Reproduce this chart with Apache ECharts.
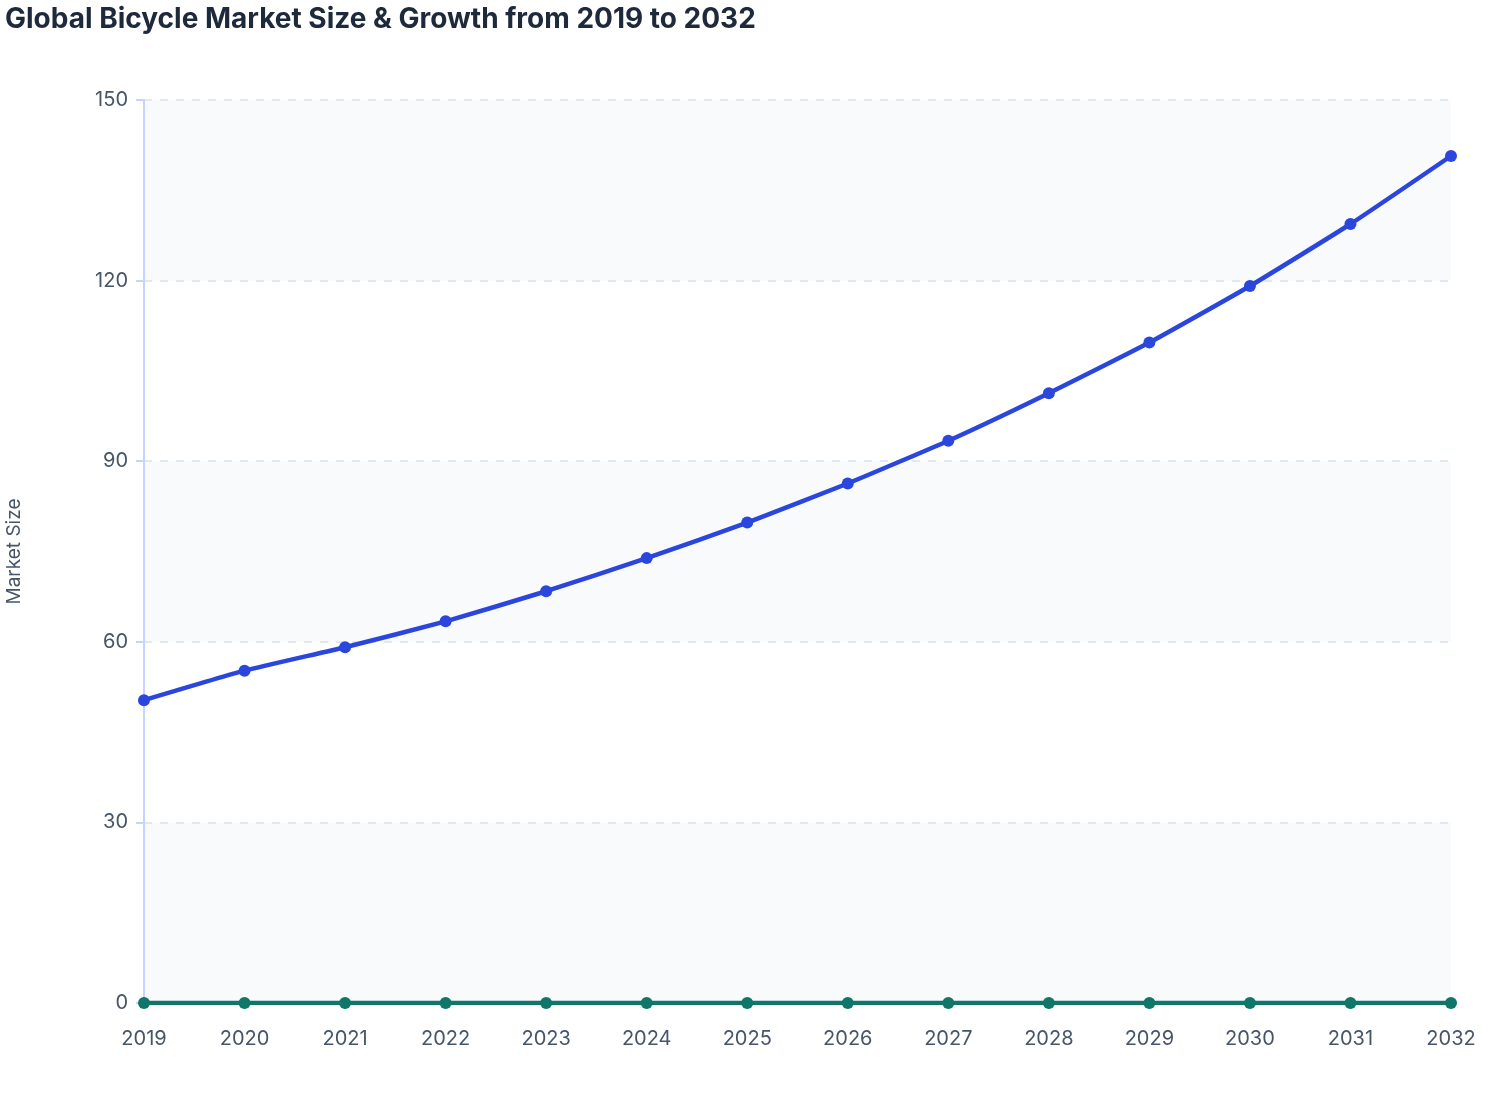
<!DOCTYPE html>
<html>
<head>
<meta charset="utf-8">
<script src="https://cdn.jsdelivr.net/npm/echarts@6/dist/echarts.min.js"></script>
<style>
html,body{margin:0;padding:0;background:#fff;}
#chart{width:1508px;height:1120px;}
</style>
</head>
<body>
<div id="chart"></div>
<script>
const years = ['2019','2020','2021','2022','2023','2024','2025','2026','2027','2028','2029','2030','2031','2032'];
const marketSize = [50.3, 55.2, 59.1, 63.4, 68.4, 73.9, 79.8, 86.3, 93.4, 101.3, 109.7, 119.1, 129.4, 140.7];
const growth = [0, 0, 0, 0, 0, 0, 0, 0, 0, 0, 0, 0, 0, 0];
const yTicks = [0, 30, 60, 90, 120, 150];

const chart = echarts.init(document.getElementById('chart'));
chart.setOption({
  animation: false,
  backgroundColor: '#ffffff',
  title: {
    text: 'Global Bicycle Market Size & Growth from 2019 to 2032',
    left: 0, top: 1,
    textStyle: {fontFamily: 'Inter', fontSize: 28, fontWeight: 'bold', color: '#1e293b'}
  },
  grid: {left: 144, right: 57, top: 100, bottom: 117, containLabel: false, outerBoundsMode: 'none'},
  xAxis: {
    type: 'category',
    data: years,
    boundaryGap: false,
    axisLine: {show: true, lineStyle: {color: '#c7d2fe', width: 2}},
    axisTick: {show: true, alignWithLabel: true, length: 6, lineStyle: {color: '#c7d2fe', width: 2}},
    axisLabel: {fontFamily: 'Inter', fontSize: 20, color: '#475569', margin: 26}
  },
  yAxis: {
    type: 'value',
    min: yTicks[0], max: yTicks[yTicks.length-1], interval: 30,
    name: 'Market Size',
    nameLocation: 'middle',
    nameGap: 120,
    nameTextStyle: {fontFamily: 'Inter', fontSize: 19, color: '#475569'},
    axisLine: {show: true, lineStyle: {color: '#c7d2fe', width: 2}},
    axisTick: {show: true, length: 8, lineStyle: {color: '#c7d2fe', width: 2}},
    axisLabel: {fontFamily: 'Inter', fontSize: 20, color: '#475569', margin: 16},
    splitLine: {show: true, lineStyle: {color: '#e2e8f0', type: [8, 8], width: 2}},
    splitArea: {show: true, areaStyle: {color: ['#f8fafc', '#ffffff']}}
  },
  series: [
    {
      name: 'Market Size',
      type: 'line',
      data: marketSize,
      smooth: 0.15,
      symbol: 'circle',
      symbolSize: 12,
      lineStyle: {color: '#2a46dc', width: 4.5},
      itemStyle: {color: '#2a46dc'},
      z: 3
    },
    {
      name: 'Growth',
      type: 'line',
      data: growth,
      symbol: 'circle',
      symbolSize: 12,
      lineStyle: {color: '#0f7668', width: 4.5},
      itemStyle: {color: '#0f7668'},
      z: 4
    }
  ]
});
</script>
</body>
</html>
